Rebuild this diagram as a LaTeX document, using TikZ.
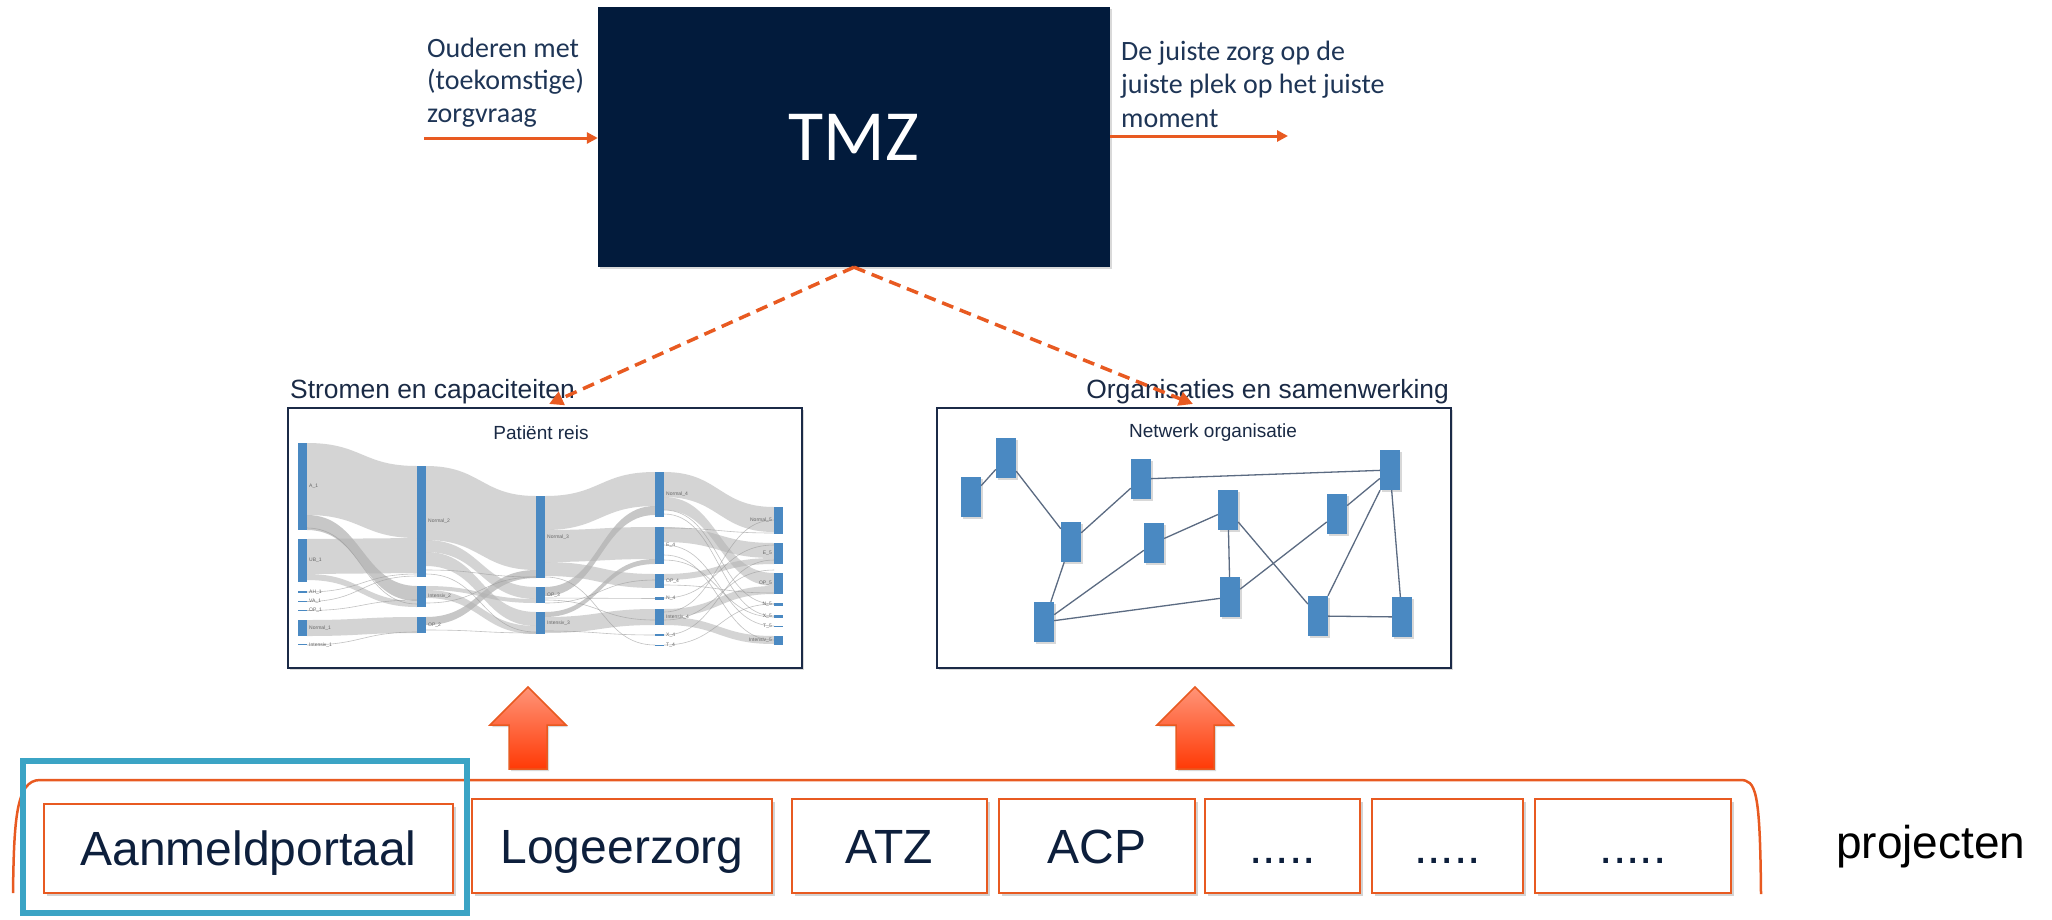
\documentclass[tikz,border=0pt]{standalone}
\usepackage{fontspec}
\setmainfont{Liberation Sans}
\newfontfamily\calib{Carlito}
\usetikzlibrary{arrows.meta,shadows}
\definecolor{tmzbg}{HTML}{021B3C}
\definecolor{orng}{HTML}{E85A21}
\definecolor{txtblue}{HTML}{1E3556}
\definecolor{headtxt}{HTML}{1A2A45}
\definecolor{boxtxt}{HTML}{0D1F3C}
\definecolor{hlblue}{HTML}{3BA4C5}
\definecolor{barblue}{HTML}{4A89C2}
\definecolor{frame}{HTML}{1B2A47}
\definecolor{edgec}{HTML}{5B6B82}
\definecolor{arrtop}{HTML}{FF9478}
\definecolor{arrbot}{HTML}{FF3A06}
\newcommand\skflow[7][flowfill]{\fill[#1] (#2,#3) .. controls ({(#2+#5)/2},#3) and ({(#2+#5)/2},#6) .. (#5,#6) -- (#5,#7) .. controls ({(#2+#5)/2},#7) and ({(#2+#5)/2},#4) .. (#2,#4) -- cycle;}
\newcommand\skline[4]{\draw[thinflow] (#1,#2) .. controls ({(#1+#3)/2},#2) and ({(#1+#3)/2},#4) .. (#3,#4);}
\newcommand\skbar[3]{\fill[barblue] (#1,#2) rectangle ({#1+9},#3);}
\begin{document}
\begin{tikzpicture}[x=1pt,y={(0pt,-1pt)},
  toplbl/.style={font=\calib\fontsize{28}{32}\selectfont, text=txtblue, anchor=base west, inner sep=0pt},
  head/.style={font=\fontsize{26.4}{30}\selectfont, text=headtxt, inner sep=0pt},
  panel/.style={draw=frame, line width=2.5pt, fill=white, minimum width=514pt, minimum height=260pt, inner sep=0pt,
    drop shadow={shadow xshift=2pt, shadow yshift=-2pt, opacity=.3}},
  flowfill/.style={fill=black!30, opacity=.55},
  darkflow/.style={fill=black!36, opacity=.6},
  thinflow/.style={draw=black!40, line width=.6pt, opacity=.6},
  sk/.style={font=\fontsize{5}{6}\selectfont, text=black!60, inner sep=0pt, anchor=west},
  skr/.style={font=\fontsize{5}{6}\selectfont, text=black!60, inner sep=0pt, anchor=east},
  nb/.style={fill=barblue, minimum width=20pt, minimum height=40pt, inner sep=0pt,
    drop shadow={shadow xshift=1.5pt, shadow yshift=-1.5pt, opacity=.3}},
  net/.style={draw=edgec, line width=1.3pt},
  proj/.style={draw=orng, line width=2.5pt, fill=white, inner sep=0pt, minimum height=94pt,
    text height=34pt, text depth=0pt, text=boxtxt, font=\fontsize{48}{52}\selectfont,
    drop shadow={shadow xshift=3pt, shadow yshift=-3pt, opacity=.35}},
  upa/.style={top color=arrtop, bottom color=arrbot, draw=orng, line width=1.5pt,
    drop shadow={shadow xshift=2pt, shadow yshift=-2pt, opacity=.3}},
  solidarr/.style={draw=orng, line width=3pt, -{Triangle[length=11pt,width=11pt]}},
  dasharr/.style={draw=orng, line width=3.5pt, dash pattern=on 12pt off 7pt, -{Triangle[length=14pt,width=14pt]}}
]
\useasboundingbox (0,0) rectangle (2052,919);

% ---------- TMZ ----------
\node[fill=tmzbg, minimum width=512pt, minimum height=260pt, inner sep=0pt,
  drop shadow={shadow xshift=2pt, shadow yshift=-2pt, opacity=.3},
  text=white, font=\calib\fontsize{72}{76}\selectfont] (tmz) at (854,137) {TMZ};

\node[toplbl] (in1) at (427,57) {Ouderen met};
\node[toplbl] (in2) at (427,89) {(toekomstige)};
\node[toplbl] (in3) at (427,122) {zorgvraag};
\node[toplbl] (out1) at (1121,60) {De juiste zorg op de};
\node[toplbl] (out2) at (1121,93.5) {juiste plek op het juiste};
\node[toplbl] (out3) at (1121,127) {moment};

\coordinate (ina) at (424,138);
\coordinate (outa) at (1288,136);
\draw[solidarr] (ina) -- (ina -| tmz.west);
\draw[solidarr] (outa -| tmz.east) -- (outa);

% ---------- panels ----------
\node[panel] (sk) at (545,538) {};
\node[panel] (nw) at (1194,538) {};
\node[head, anchor=base west] (skh) at (290,398) {Stromen en capaciteiten};
\node[head, anchor=base east] (nwh) at (1449,398) {Organisaties en samenwerking};

\coordinate (la) at (549,404);
\coordinate (ra) at (1193,404);
\draw[dasharr] (tmz.south) -- (la);
\draw[dasharr] (tmz.south) -- (ra);

% ---------- Sankey ----------
\node[font=\fontsize{19}{22}\selectfont, text=headtxt, inner sep=0pt] (skt) at (541,433) {Patiënt reis};
% c1 -> c2
\skflow{307}{443}{515}{417}{466}{538}
\skflow[darkflow]{307}{515}{530}{417}{586}{601}
\skflow{307}{539}{574}{417}{538}{573}
\skflow{307}{574}{580}{417}{601}{607}
\skflow{307}{620}{636}{417}{617}{633}
\skline{307}{592}{417}{574}
\skline{307}{601.5}{417}{576}
\skline{307}{610.5}{417}{600}
\skline{307}{645}{417}{632}
\skline{307}{528}{417}{604}
% c2 -> c3
\skflow{426}{466}{540}{536}{496}{570}
\skflow[darkflow]{426}{617}{625}{536}{570}{578}
\skflow{426}{540}{552}{536}{587}{599}
\skflow{426}{586}{590}{536}{599}{603}
\skflow{426}{552}{566}{536}{612}{626}
\skflow{426}{590}{598}{536}{626}{634}
\skline{426}{570}{536}{577}
\skline{426}{603}{536}{577}
\skline{426}{630}{536}{633}
\skline{426}{574}{536}{632}
% c3 -> c4
\skflow{545}{496}{530}{655}{472}{506}
\skflow[darkflow]{545}{587}{596}{655}{506}{515}
\skflow{545}{530}{562}{655}{527}{559}
\skflow[darkflow]{545}{612}{617}{655}{559}{564}
\skflow{545}{562}{576}{655}{574}{588}
\skflow{545}{617}{633}{655}{609}{625}
\skline{545}{598}{655}{598.5}
\skline{545}{631}{655}{635}
\skline{545}{577}{655}{645}
\skline{545}{600}{655}{620}
\skline{545}{603}{655}{580}
% c4 -> c5
\skflow{664}{472}{497}{774}{507}{532}
\skflow{664}{497}{510}{774}{573}{586}
\skflow{664}{527}{542}{774}{543}{558}
\skflow{664}{574}{580}{774}{558}{564}
\skflow{664}{609}{617}{774}{586}{594}
\skflow{664}{617}{625}{774}{636}{644}
\skline{664}{528}{774}{533}
\skline{664}{510}{774}{604}
\skline{664}{514}{774}{616}
\skline{664}{545}{774}{626}
\skline{664}{555}{774}{640}
\skline{664}{585}{774}{593}
\skline{664}{598}{774}{545}
\skline{664}{612}{774}{520}
\skline{664}{635}{774}{560}
\skline{664}{645}{774}{604}
\skline{664}{620}{774}{570}
\skline{664}{560}{774}{617}
% bars
\skbar{298}{443}{530}\skbar{298}{539}{582}\skbar{298}{591}{593}\skbar{298}{601}{602.2}
\skbar{298}{610}{611.2}\skbar{298}{620}{636}\skbar{298}{644}{645.2}
\skbar{417}{466}{577}\skbar{417}{586}{607}\skbar{417}{617}{633}
\skbar{536}{496}{578}\skbar{536}{587}{603}\skbar{536}{612}{634}
\skbar{655}{472}{517}\skbar{655}{527}{564}\skbar{655}{574}{588}\skbar{655}{597}{600}
\skbar{655}{609}{625}\skbar{655}{634}{636}\skbar{655}{645}{646.2}
\skbar{774}{507}{534}\skbar{774}{543}{564}\skbar{774}{573}{594}\skbar{774}{603}{606}
\skbar{774}{615}{618}\skbar{774}{626}{627.2}\skbar{774}{636}{645}
% labels
\node[sk] (a1) at (309,486) {A\_1};
\node[sk] (ub1) at (309,560) {UB\_1};
\node[sk] (ah1) at (309,592) {AH\_1};
\node[sk] (va1) at (309,601.5) {VA\_1};
\node[sk] (op1) at (309,610.5) {OP\_1};
\node[sk] (no1) at (309,628) {Normal\_1};
\node[sk] (in1s) at (309,645) {Intensiv\_1};
\node[sk] (no2) at (428,521) {Normal\_2};
\node[sk] (int2) at (428,596) {Intensiv\_2};
\node[sk] (op2) at (428,625) {OP\_2};
\node[sk] (no3) at (547,537) {Normal\_3};
\node[sk] (op3) at (547,595) {OP\_3};
\node[sk] (int3) at (547,623) {Intensiv\_3};
\node[sk] (no4) at (666,494) {Normal\_4};
\node[sk] (e4) at (666,545) {E\_4};
\node[sk] (op4) at (666,581) {OP\_4};
\node[sk] (n4) at (666,598.5) {N\_4};
\node[sk] (int4) at (666,617) {Intensiv\_4};
\node[sk] (x4) at (666,635) {X\_4};
\node[sk] (t4) at (666,645.5) {T\_4};
\node[skr] (no5) at (772,520) {Normal\_5};
\node[skr] (e5) at (772,553) {E\_5};
\node[skr] (op5) at (772,583) {OP\_5};
\node[skr] (n5) at (772,604.5) {N\_5};
\node[skr] (x5) at (772,616.5) {X\_5};
\node[skr] (t5) at (772,626.5) {T\_5};
\node[skr] (int5) at (772,640.5) {Intensiv\_5};

% ---------- Network ----------
\node[font=\fontsize{19}{22}\selectfont, text=headtxt, inner sep=0pt, anchor=base] (nwt) at (1213,437) {Netwerk organisatie};
\node[nb] (n1) at (971,497) {};
\node[nb] (n2) at (1006,458) {};
\node[nb] (n3) at (1141,479) {};
\node[nb] (n4) at (1071,542) {};
\node[nb] (n5) at (1154,543) {};
\node[nb] (n6) at (1228,510) {};
\node[nb] (n7) at (1337,514) {};
\node[nb] (n8) at (1390,470) {};
\node[nb] (n9) at (1044,622) {};
\node[nb] (n10) at (1230,597) {};
\node[nb] (n11) at (1318,616) {};
\node[nb] (n12) at (1402,617) {};
\draw[net] (n1) -- (n2);
\draw[net] (n2) -- (n4);
\draw[net] (n4) -- (n3);
\draw[net] (n4) -- (n9);
\draw[net] (n9) -- (n5);
\draw[net] (n5) -- (n6);
\draw[net] (n9) -- (n10);
\draw[net] (n6) -- (n10);
\draw[net] (n6) -- (n11);
\draw[net] (n10) -- (n7);
\draw[net] (n3) -- (n8);
\draw[net] (n7) -- (n8);
\draw[net] (n11) -- (n8);
\draw[net] (n8) -- (n12);
\draw[net] (n11) -- (n12);

% ---------- up arrows ----------
\path[upa] (528,687) -- (566,725) -- (547,725) -- (547,769) -- (509,769) -- (509,725) -- (490,725) -- cycle;
\path[upa] (1195,687) -- (1233,725) -- (1214,725) -- (1214,769) -- (1176,769) -- (1176,725) -- (1157,725) -- cycle;

% ---------- projects ----------
\coordinate (brl) at (13,893);
\coordinate (brr) at (1761,894);
\draw[orng, line width=2.5pt] (brl) .. controls (14,820) and (16,780) .. (40,780) -- (1740,780) .. controls (1756,780) and (1760,790) .. (brr);
\node[proj, minimum width=409pt, minimum height=89pt] (b1) at (248.5,848.5) {Aanmeldportaal};
\node[proj, minimum width=300pt] (b2) at (622,846) {Logeerzorg};
\node[proj, minimum width=195pt] (b3) at (889.5,846) {ATZ};
\node[proj, minimum width=196pt] (b4) at (1097,846) {ACP};
\node[proj, minimum width=155pt] (b5) at (1282.5,846) {.....};
\node[proj, minimum width=151pt] (b6) at (1447.5,846) {.....};
\node[proj, minimum width=196pt] (b7) at (1633,846) {.....};
\draw[hlblue, line width=6pt] (23,761) rectangle (467,913);
\node[font=\fontsize{46}{50}\selectfont, text=black, inner sep=0pt, anchor=base west] (pj) at (1836,858) {projecten};
\end{tikzpicture}
\end{document}
